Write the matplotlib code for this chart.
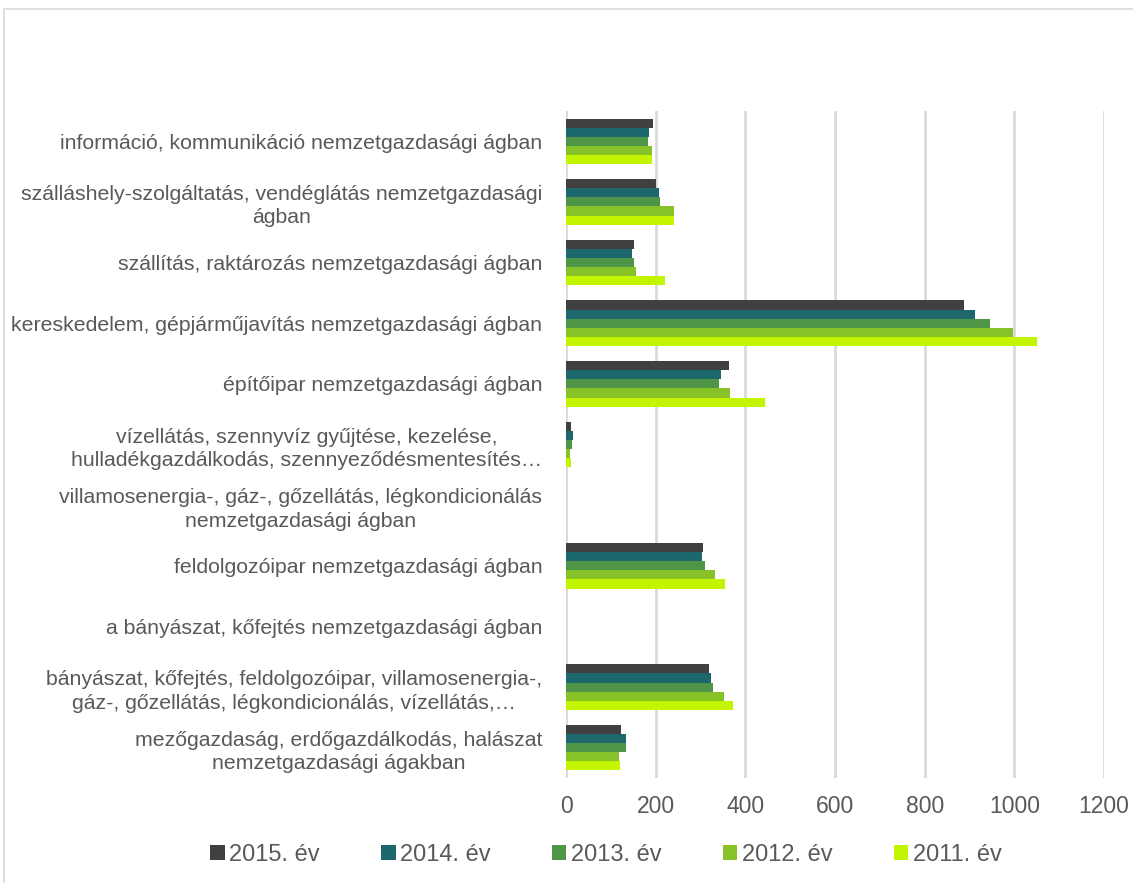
import numpy as np
import matplotlib.pyplot as plt
from matplotlib.patches import Rectangle

plt.rcParams['font.family'] = ['Liberation Sans', 'DejaVu Sans']

# categories from bottom to top
categories = [
    "mezőgazdaság, erdőgazdálkodás, halászat\nnemzetgazdasági ágakban",
    "bányászat, kőfejtés, feldolgozóipar, villamosenergia-,\ngáz-, gőzellátás, légkondicionálás, vízellátás,…",
    "a bányászat, kőfejtés nemzetgazdasági ágban",
    "feldolgozóipar nemzetgazdasági ágban",
    "villamosenergia-, gáz-, gőzellátás, légkondicionálás\nnemzetgazdasági ágban",
    "vízellátás, szennyvíz gyűjtése, kezelése,\nhulladékgazdálkodás, szennyeződésmentesítés…",
    "építőipar nemzetgazdasági ágban",
    "kereskedelem, gépjárműjavítás nemzetgazdasági ágban",
    "szállítás, raktározás nemzetgazdasági ágban",
    "szálláshely-szolgáltatás, vendéglátás nemzetgazdasági\nágban",
    "információ, kommunikáció nemzetgazdasági ágban",
]

y2015 = [122, 320, 0, 305, 1, 10, 363, 888, 152, 200, 195]
y2014 = [134, 323, 0, 303, 1, 16, 346, 913, 147, 208, 186]
y2013 = [134, 328, 0, 310, 1, 13, 341, 946, 152, 209, 182]
y2012 = [119, 352, 0, 333, 1, 9, 366, 997, 156, 240, 191]
y2011 = [121, 372, 0, 355, 1, 11, 444, 1051, 220, 240, 192]

series = [("2015. év", y2015, "#404040"),
          ("2014. év", y2014, "#1d686c"),
          ("2013. év", y2013, "#4e9548"),
          ("2012. év", y2012, "#87c228"),
          ("2011. év", y2011, "#c3f400")]

xticks = [0, 200, 400, 600, 800, 1000, 1200]

fig = plt.figure(figsize=(11.33, 8.83), dpi=100)
ax = fig.add_axes([0.4996, 0.1189, 0.4748, 0.7554])

pos = np.arange(len(categories))
h = 0.15
for i, (name, vals, col) in enumerate(series):
    offset = (2 - i) * h
    ax.barh(pos + offset, vals, height=h, color=col, label=name, zorder=3)

ax.set_ylim(-0.5, len(categories) - 0.5)
ax.set_xlim(0, 1200)
ax.set_xticks(xticks)
ax.set_xticklabels([str(t) for t in xticks])
ax.set_yticks(pos)
ax.set_yticklabels(categories, multialignment='center', linespacing=1.3)
ax.tick_params(axis='y', length=0, pad=17, labelsize=15.3, labelcolor='#595959')
ax.tick_params(axis='x', length=0, pad=12, labelsize=16.5, labelcolor='#595959')
ax.grid(axis='x', color='#d9d9d9', linewidth=2, zorder=0)
for s in ax.spines.values():
    s.set_visible(False)

fig.legend(loc='center', bbox_to_anchor=(0.535, 1 - 855 / 883), ncol=5,
           frameon=False, fontsize=17, labelcolor='#595959',
           handlelength=0.6, handleheight=0.6, handletextpad=0.2,
           columnspacing=2.6)

fig.add_artist(Rectangle((4 / 1133, -0.1), 1.2, 1 - 9 / 883 + 0.1,
                         transform=fig.transFigure, fill=False,
                         edgecolor='#d9d9d9', linewidth=1.2))

plt.savefig("out.png", dpi=100)
